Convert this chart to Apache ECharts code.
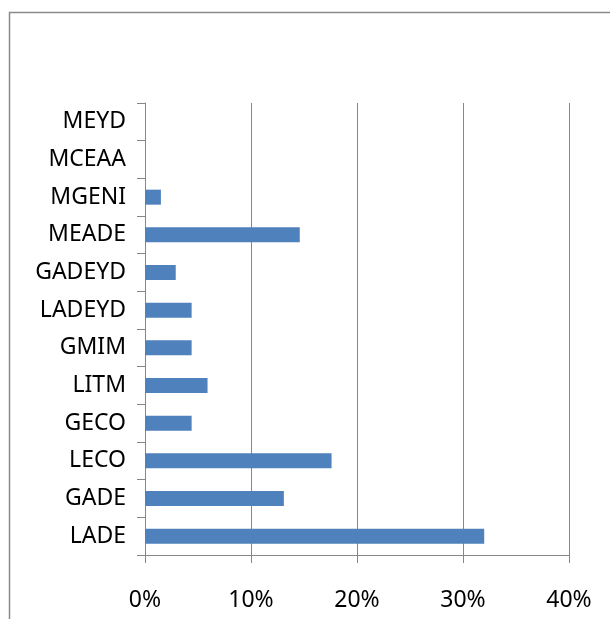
<!DOCTYPE html>
<html>
<head>
<meta charset="utf-8">
<script src="https://cdn.jsdelivr.net/npm/echarts@6/dist/echarts.min.js"></script>
<style>
  html, body { margin: 0; padding: 0; background: #fff; }
  #chart { width: 610px; height: 619px; }
</style>
</head>
<body>
<div id="chart"></div>
<script>
// categories listed bottom -> top (echarts draws the first one at the bottom)
var categories = ['LADE', 'GADE', 'LECO', 'GECO', 'LITM', 'GMIM', 'LADEYD', 'GADEYD', 'MEADE', 'MGENI', 'MCEAA', 'MEYD'];
var values = [32.0, 13.1, 17.6, 4.4, 5.9, 4.4, 4.4, 2.9, 14.6, 1.5, 0, 0];
var xTicks = [0, 10, 20, 30, 40];

var myChart = echarts.init(document.getElementById('chart'));

var gridColor = '#878787';

var option = {
    animation: false,
    backgroundColor: '#fff',
    // chart frame, cut off at right and bottom like the picture
    graphic: [{
        type: 'rect',
        shape: { x: 9.5, y: 12.5, width: 800, height: 800 },
        style: { fill: 'none', stroke: '#8a8a8a', lineWidth: 1.5 },
        silent: true
    }],
    grid: {
        left: 145,
        right: 41,
        top: 103,
        bottom: 64
    },
    xAxis: {
        type: 'value',
        min: xTicks[0],
        max: xTicks[xTicks.length - 1],
        interval: 10,
        axisLine: { show: true, lineStyle: { color: gridColor, width: 1 } },
        axisTick: { show: true, length: 8, lineStyle: { color: gridColor } },
        splitLine: { show: true, lineStyle: { color: gridColor, width: 1 } },
        axisLabel: {
            formatter: '{value}%',
            color: '#000',
            fontFamily: 'Noto Sans',
            fontSize: 23,
            margin: 34
        }
    },
    yAxis: {
        type: 'category',
        data: categories,
        axisLine: { show: true, lineStyle: { color: gridColor, width: 1 } },
        axisTick: { show: true, length: 8, lineStyle: { color: gridColor } },
        axisLabel: {
            color: '#000',
            fontFamily: 'Noto Sans',
            fontSize: 23,
            margin: 19,
            padding: [5, 0, 0, 0]
        }
    },
    series: [{
        type: 'bar',
        data: values,
        barWidth: 15,
        itemStyle: { color: '#4f81bd' }
    }]
};

myChart.setOption(option);
</script>
</body>
</html>
